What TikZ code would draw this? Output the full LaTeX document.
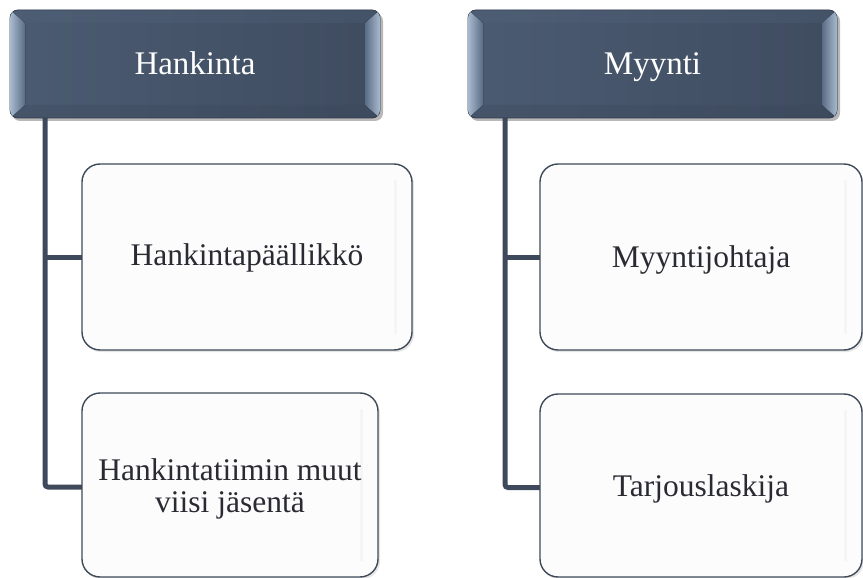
\documentclass[tikz,border=0pt]{standalone}
\usepackage{fontspec}
\setmainfont{Liberation Serif}
\usetikzlibrary{calc,backgrounds}

\definecolor{hdrA}{HTML}{4B5B71}
\definecolor{hdrB}{HTML}{3F4C60}
\definecolor{hdrEdge}{HTML}{2E3846}
\definecolor{bevLight}{HTML}{A8BACF}
\definecolor{bevDark}{HTML}{5A6C84}
\definecolor{bevTop}{HTML}{53637A}
\definecolor{bevBot}{HTML}{3A475B}
\definecolor{boxFill}{HTML}{FCFCFD}
\definecolor{boxEdge}{HTML}{3E4A5A}
\definecolor{boxStrip}{HTML}{F4F5F7}
\definecolor{linkCol}{HTML}{3E4A5B}
\definecolor{txtCol}{HTML}{2A2A33}

\tikzset{
  header/.style={rounded corners=8pt, draw=hdrEdge, line width=0.8pt,
    left color=hdrA, right color=hdrB, inner sep=0pt, outer sep=0pt},
  htext/.style={text=white, font=\fontsize{33}{36}\selectfont,
    text height=24pt, text depth=2pt, inner sep=0pt},
  member/.style={rounded corners=18pt, draw=boxEdge, line width=1.4pt,
    fill=boxFill, inner sep=0pt, outer sep=0pt},
  mtext/.style={text=txtCol, align=center, inner sep=0pt,
    font=\fontsize{31.5}{32}\selectfont},
  link/.style={draw=linkCol, line width=5pt, rounded corners=3pt},
  hshadow/.style={fill=black, opacity=0.28, rounded corners=8pt},
  mshadow/.style={fill=black, opacity=0.10, rounded corners=18pt},
  bevel/.style={rounded corners=8pt, path picture={
    \coordinate (bnw) at (path picture bounding box.north west);
    \coordinate (bne) at (path picture bounding box.north east);
    \coordinate (bsw) at (path picture bounding box.south west);
    \coordinate (bse) at (path picture bounding box.south east);
    \begin{scope}[sharp corners]
      \fill[bevTop, opacity=0.3] (bnw) -- (bne) -- ($(bne)+(-15pt,-13pt)$)
        -- ($(bnw)+(15pt,-13pt)$) -- cycle;
      \fill[bevBot, opacity=0.3] (bsw) -- (bse) -- ($(bse)+(-15pt,13pt)$)
        -- ($(bsw)+(15pt,13pt)$) -- cycle;
      \fill[left color=bevLight, right color=bevDark]
        (bnw) -- ($(bnw)+(15pt,-13pt)$) -- ($(bsw)+(15pt,13pt)$) -- (bsw) -- cycle;
      \fill[left color=bevDark, right color=bevLight]
        (bne) -- ($(bne)+(-15pt,-13pt)$) -- ($(bse)+(-15pt,13pt)$) -- (bse) -- cycle;
    \end{scope}
  }},
}

\begin{document}
\begin{tikzpicture}[x=1pt, y=-1pt]
\useasboundingbox (0,0) rectangle (863,578);

% department headers
\node[header, minimum width=370pt, minimum height=108pt] (h1) at (195,64) {};
\node[header, minimum width=369pt, minimum height=108pt] (h2) at (652.5,64) {};

% bevelled edges of the headers
\path[bevel] (h1.north west) rectangle (h1.south east);
\path[bevel] (h2.north west) rectangle (h2.south east);
\node[htext] (h1t) at (h1.center) {Hankinta};
\node[htext] (h2t) at (h2.center) {Myynti};

% member boxes
\node[member, minimum width=330pt, minimum height=186pt] (c11) at (247,257) {};
\node[member, minimum width=296pt, minimum height=184pt] (c12) at (230,485) {};
\node[member, minimum width=322pt, minimum height=186pt] (c21) at (701,257) {};
\node[member, minimum width=322pt, minimum height=183pt] (c22) at (701,485.5) {};

% faint highlight strips near the right edges
\foreach \b in {c11,c12,c21,c22}{
  \fill[boxStrip] ($(\b.north east)+(-18pt,-16pt)$) rectangle ($(\b.south east)+(-15pt,16pt)$);
}

% member titles
\node[mtext] (c11t) at (247,258) {Hankintapäällikkö};
\node[mtext] (c12t) at (230,489) {Hankintatiimin muut\\viisi jäsentä};
\node[mtext] (c21t) at (701,260) {Myyntijohtaja};
\node[mtext] (c22t) at (701,489) {Tarjouslaskija};

% trunk starts under each header
\coordinate (t1) at (45,110);
\coordinate (t2) at (505,110);

\begin{pgfonlayer}{background}
  % soft shadows
  \fill[hshadow] ($(h1.north west)+(2pt,-3pt)$) rectangle ($(h1.south east)+(3pt,-3pt)$);
  \fill[hshadow] ($(h2.north west)+(2pt,-3pt)$) rectangle ($(h2.south east)+(3pt,-3pt)$);
  \foreach \b in {c11,c12,c21,c22}{
    \fill[mshadow] ($(\b.north west)+(1pt,-3pt)$) rectangle ($(\b.south east)+(2pt,-2pt)$);
  }
  % connectors
  \draw[link] (t1) |- ($(c12.west)+(0,2)$);
  \draw[link] (t1 |- c11.west) -- (c11.west);
  \draw[link] (t2) |- ($(c22.west)+(0,2)$);
  \draw[link] (t2 |- c21.west) -- (c21.west);
\end{pgfonlayer}
\end{tikzpicture}
\end{document}
